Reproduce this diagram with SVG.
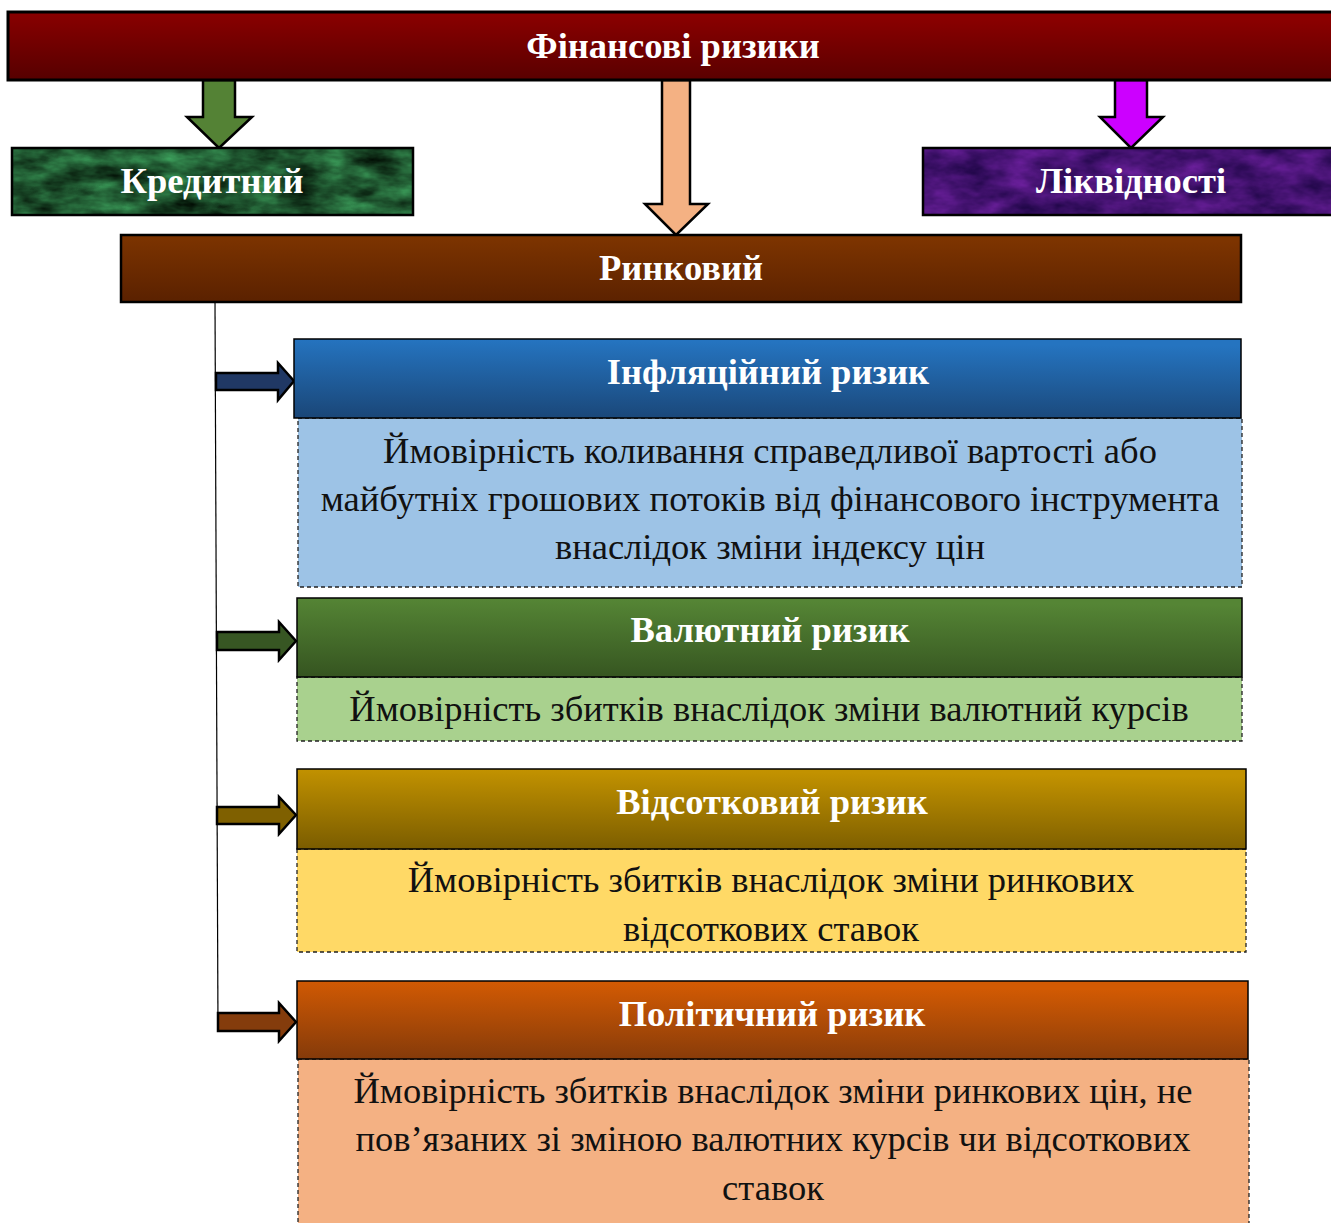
<svg xmlns="http://www.w3.org/2000/svg" width="1331" height="1223" viewBox="0 0 1331 1223">
  <style>
    .hdr { font-family: "Liberation Serif", "Times New Roman", serif; font-weight: bold; font-size: 36.5px; fill: #ffffff; text-anchor: middle; }
    .desc { font-family: "Liberation Serif", "Times New Roman", serif; font-size: 36.5px; fill: #111111; text-anchor: middle; }
    .box { stroke: #000000; stroke-width: 1.5; }
    .dash { stroke: #222222; stroke-width: 1.3; stroke-dasharray: 4 3; }
    .arrow { stroke: #000000; stroke-width: 2.5; stroke-linejoin: miter; }
    .line { stroke: #000000; stroke-width: 1.2; fill: none; }
  </style>
  <defs>
    <linearGradient id="gTop" x1="0" y1="1" x2="0.15" y2="0">
      <stop offset="0" stop-color="#560000"/>
      <stop offset="1" stop-color="#8a0000"/>
    </linearGradient>
    <linearGradient id="gMarket" x1="0" y1="1" x2="0.1" y2="0">
      <stop offset="0" stop-color="#5a2100"/>
      <stop offset="1" stop-color="#7d3400"/>
    </linearGradient>
    <linearGradient id="gBlue" x1="0" y1="1" x2="0.1" y2="0">
      <stop offset="0" stop-color="#1a4677"/>
      <stop offset="1" stop-color="#2574c0"/>
    </linearGradient>
    <linearGradient id="gGreen" x1="0" y1="1" x2="0.1" y2="0">
      <stop offset="0" stop-color="#355420"/>
      <stop offset="1" stop-color="#558535"/>
    </linearGradient>
    <linearGradient id="gGold" x1="0" y1="1" x2="0.1" y2="0">
      <stop offset="0" stop-color="#7a5c00"/>
      <stop offset="1" stop-color="#c29200"/>
    </linearGradient>
    <linearGradient id="gRust" x1="0" y1="1" x2="0.15" y2="0">
      <stop offset="0" stop-color="#843a0a"/>
      <stop offset="1" stop-color="#d25a03"/>
    </linearGradient>
    <!-- mottled marble fills for the two side boxes -->
    <filter id="marbleGreen" x="0" y="0" width="100%" height="100%" color-interpolation-filters="sRGB">
      <feTurbulence type="fractalNoise" baseFrequency="0.025 0.06" numOctaves="4" seed="3" result="n"/>
      <feColorMatrix in="n" type="matrix" values="0.3 0 0 0 -0.03  0.75 0 0 0 -0.04  0.45 0 0 0 -0.04  0 0 0 0 1" result="c"/>
      <feComposite in="c" in2="SourceGraphic" operator="in"/>
    </filter>
    <filter id="marblePurple" x="0" y="0" width="100%" height="100%" color-interpolation-filters="sRGB">
      <feTurbulence type="fractalNoise" baseFrequency="0.025 0.05" numOctaves="4" seed="7" result="n"/>
      <feColorMatrix in="n" type="matrix" values="0.45 0 0 0 0.05  0.15 0 0 0 0.0  0.5 0 0 0 0.2  0 0 0 0 1" result="c"/>
      <feComposite in="c" in2="SourceGraphic" operator="in"/>
    </filter>
  </defs>

  <rect width="1331" height="1223" fill="#ffffff"/>

  <!-- connectors -->
  <g id="connectors">
    <polyline class="line" points="215,302 218,1031"/>
    <polygon class="arrow" fill="#548235" points="203,80 235,80 235,117 252,117 219,148 187,117 203,117"/>
    <polygon class="arrow" fill="#f4b183" points="662,80 690,80 690,204 708,204 676,235 645,204 662,204"/>
    <polygon class="arrow" fill="#cc00ff" points="1115,80 1147,80 1147,117 1163,117 1131,148 1100,117 1115,117"/>
    <polygon class="arrow" fill="#203864" points="216,373 278,373 278,363 294,381 278,400 278,390 216,390"/>
    <polygon class="arrow" fill="#375623" points="217,632 279,632 279,622 296,641 279,660 279,650 217,650"/>
    <polygon class="arrow" fill="#7f6000" points="217,807 279,807 279,797 296,815 279,834 279,824 217,824"/>
    <polygon class="arrow" fill="#843c0c" points="218,1013 279,1013 279,1003 296,1022 279,1041 279,1031 218,1031"/>
  </g>

  <g id="financial-risks">
    <rect x="8" y="12" width="1330" height="68" fill="url(#gTop)" stroke="#000" stroke-width="3"/>
    <text class="hdr" x="673" y="58">Фінансові ризики</text>
  </g>

  <g id="credit">
    <rect x="12" y="148" width="401" height="67" fill="#1d5a30" filter="url(#marbleGreen)"/>
    <rect x="12" y="148" width="401" height="67" fill="none" stroke="#000" stroke-width="2.5"/>
    <text class="hdr" x="212" y="193">Кредитний</text>
  </g>

  <g id="liquidity">
    <rect x="923" y="148" width="415" height="67" fill="#4a1a7a" filter="url(#marblePurple)"/>
    <rect x="923" y="148" width="415" height="67" fill="none" stroke="#000" stroke-width="2.5"/>
    <text class="hdr" x="1131" y="193">Ліквідності</text>
  </g>

  <g id="market">
    <rect x="121" y="235" width="1120" height="67" fill="url(#gMarket)" stroke="#000" stroke-width="2.5"/>
    <text class="hdr" x="681" y="280">Ринковий</text>
  </g>

  <g id="inflation-risk">
    <rect class="dash" x="298" y="418" width="944" height="169" fill="#9dc3e6"/>
    <rect class="box" x="294" y="339" width="947" height="79" fill="url(#gBlue)"/>
    <text class="hdr" x="768" y="384">Інфляційний ризик</text>
    <text class="desc" x="770" y="463">Ймовірність коливання справедливої вартості або</text>
    <text class="desc" x="770" y="511">майбутніх грошових потоків від фінансового інструмента</text>
    <text class="desc" x="770" y="559">внаслідок зміни індексу цін</text>
  </g>

  <g id="currency-risk">
    <rect class="dash" x="297" y="677" width="945" height="64" fill="#a9d18e"/>
    <rect class="box" x="297" y="598" width="945" height="79" fill="url(#gGreen)"/>
    <text class="hdr" x="770" y="642">Валютний ризик</text>
    <text class="desc" x="769" y="721">Ймовірність збитків внаслідок зміни валютний курсів</text>
  </g>

  <g id="interest-risk">
    <rect class="dash" x="297" y="849" width="949" height="103" fill="#ffd966"/>
    <rect class="box" x="297" y="769" width="949" height="80" fill="url(#gGold)"/>
    <text class="hdr" x="772" y="814">Відсотковий ризик</text>
    <text class="desc" x="771" y="892">Ймовірність збитків внаслідок зміни ринкових</text>
    <text class="desc" x="771" y="941">відсоткових ставок</text>
  </g>

  <g id="political-risk">
    <rect class="dash" x="298" y="1059" width="951" height="170" fill="#f4b183"/>
    <rect class="box" x="297" y="981" width="951" height="78" fill="url(#gRust)"/>
    <text class="hdr" x="772" y="1026">Політичний ризик</text>
    <text class="desc" x="773" y="1103">Ймовірність збитків внаслідок зміни ринкових цін, не</text>
    <text class="desc" x="773" y="1151">пов’язаних зі зміною валютних курсів чи відсоткових</text>
    <text class="desc" x="773" y="1200">ставок</text>
  </g>
</svg>
